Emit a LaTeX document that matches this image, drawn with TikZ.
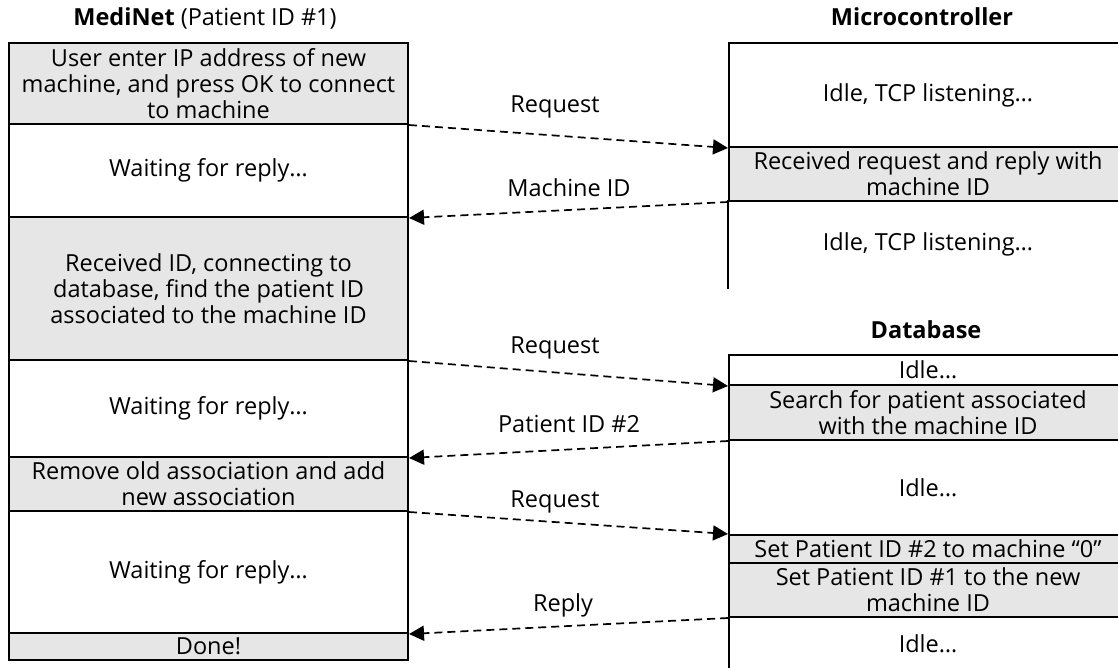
\documentclass[tikz,border=0pt]{standalone}
\usepackage{fontspec}
\setmainfont{Open Sans}
\usetikzlibrary{arrows.meta}
\definecolor{boxgray}{HTML}{E6E6E6}
\begin{document}
\begin{tikzpicture}[x=1pt,y=-1pt,
  lane/.style={draw=black, line width=2pt, inner sep=0pt, align=center,
    anchor=north west, font=\fontsize{23.5}{26}\selectfont},
  leftlane/.style={lane, minimum width=399pt},
  rightlane/.style={lane, minimum width=398pt},
  shaded/.style={fill=boxgray},
  msg/.style={dash pattern=on 8pt off 5pt, line width=1.7pt,
    -{Triangle[length=15pt,width=15pt]}},
  lbl/.style={inner sep=0pt, anchor=base, font=\fontsize{23.5}{26}\selectfont},
  ttl/.style={inner sep=0pt, anchor=base, font=\fontsize{23.5}{26}\selectfont}
]
\useasboundingbox (0,0) rectangle (1118,668);

% titles
\node[ttl] (t1) at (205,26) {\textbf{MediNet} (Patient ID \#1)};
\node[ttl] (t2) at (922,26) {\textbf{Microcontroller}};
\node[ttl] (t3) at (926,338) {\textbf{Database}};

% MediNet lane
\node[leftlane, shaded, minimum height=81pt] (m1) at (8,42)
  {User enter IP address of new\\machine, and press OK to connect\\to machine};
\node[leftlane, minimum height=93pt] (m2) at (8,123) {Waiting for reply\dots};
\node[leftlane, shaded, minimum height=143pt] (m3) at (8,216)
  {Received ID, connecting to\\database, find the patient ID\\associated to the machine ID};
\node[leftlane, minimum height=97pt] (m4) at (8,359) {Waiting for reply\dots};
\node[leftlane, shaded, minimum height=54pt] (m5) at (8,456)
  {Remove old association and add\\new association};
\node[leftlane, minimum height=122pt] (m6) at (8,510) {Waiting for reply\dots};
\node[leftlane, shaded, minimum height=27pt] (m7) at (8,632) {Done!};

% Microcontroller lane
\node[rightlane, minimum height=104pt] (c1) at (728,42) {Idle, TCP listening\dots};
\node[rightlane, shaded, minimum height=54pt] (c2) at (728,146)
  {Received request and reply with\\machine ID};
\node[rightlane, draw=none, minimum height=87pt] (c3) at (728,200) {Idle, TCP listening\dots};
\draw[line width=2pt] (c3.north west) -- (c3.south west);

% Database lane
\node[rightlane, minimum height=30pt] (d1) at (728,354) {Idle\dots};
\node[rightlane, shaded, minimum height=55pt] (d2) at (728,384)
  {Search for patient associated\\with the machine ID};
\node[rightlane, minimum height=95pt] (d3) at (728,439) {Idle\dots};
\node[rightlane, shaded, minimum height=28pt] (d4) at (728,534)
  {Set Patient ID \#2 to machine “0”};
\node[rightlane, shaded, minimum height=54pt] (d5) at (728,562)
  {Set Patient ID \#1 to the new\\machine ID};
\node[rightlane, minimum height=54pt] (d6) at (728,616) {Idle\dots};

% messages
\draw[msg] (m1.south east) -- (c1.south west);
\draw[msg] (c2.south west) -- (m2.south east);
\draw[msg] (m3.south east) -- (d1.south west);
\draw[msg] (d2.south west) -- (m4.south east);
\draw[msg] (m5.south east) -- (d4.north west);
\draw[msg] (d5.south west) -- (m6.south east);

% message labels
\node[lbl] (l1) at (555,113) {Request};
\node[lbl] (l2) at (569,197) {Machine ID};
\node[lbl] (l3) at (555,353) {Request};
\node[lbl] (l4) at (569,432) {Patient ID \#2};
\node[lbl] (l5) at (555,507) {Request};
\node[lbl] (l6) at (563,611) {Reply};
\end{tikzpicture}
\end{document}
